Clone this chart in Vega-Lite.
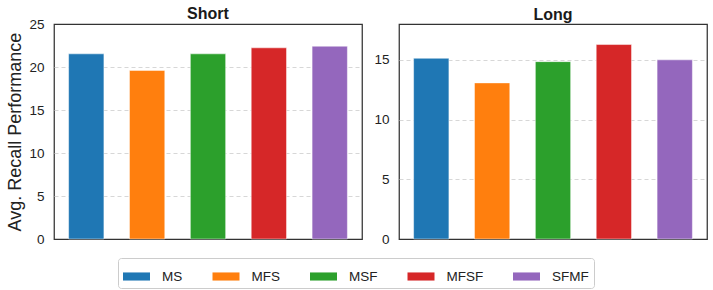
{
  "$schema": "https://vega.github.io/schema/vega-lite/v6.json",
  "background": "white",
  "padding": {"left": 6, "top": 5, "right": 5, "bottom": 5},
  "data": {"values": [
    {"Length": "Short", "Method": "MS", "Value": 21.53},
    {"Length": "Short", "Method": "MFS", "Value": 19.6},
    {"Length": "Short", "Method": "MSF", "Value": 21.53},
    {"Length": "Short", "Method": "MFSF", "Value": 22.23},
    {"Length": "Short", "Method": "SFMF", "Value": 22.42},
    {"Length": "Long", "Method": "MS", "Value": 15.13},
    {"Length": "Long", "Method": "MFS", "Value": 13.07},
    {"Length": "Long", "Method": "MSF", "Value": 14.85},
    {"Length": "Long", "Method": "MFSF", "Value": 16.28},
    {"Length": "Long", "Method": "SFMF", "Value": 15.0}
  ]},
  "config": {
    "font": "Liberation Sans",
    "view": {"stroke": "#333333", "strokeWidth": 1.25},
    "title": {"fontSize": 16, "fontWeight": "bold", "color": "#1a1a1a", "anchor": "middle"},
    "axis": {"labelFontSize": 13.5, "labelColor": "#222222", "titleColor": "#222222", "tickSize": 0, "labelPadding": 10, "domain": false, "gridColor": "#d3d3d3", "gridDash": [4, 3], "gridWidth": 0.9},
    "legend": {"labelFontSize": 13.5, "labelColor": "#222222"}
  },
  "spacing": 10,
  "hconcat": [
    {
      "title": {"text": "Short", "offset": -5},
      "width": 308,
      "height": 215,
      "transform": [{"filter": "datum.Length === 'Short'"}],
      "mark": {"type": "bar", "stroke": "white", "strokeWidth": 0.8, "strokeOpacity": 0.6},
      "encoding": {
        "x": {"field": "Method", "type": "nominal", "sort": ["MS", "MFS", "MSF", "MFSF", "SFMF"], "axis": null, "scale": {"paddingInner": 0.42, "paddingOuter": 0.24}},
        "y": {"field": "Value", "type": "quantitative", "scale": {"domain": [0, 25]}, "axis": {"title": "Avg. Recall Performance", "titleFontSize": 18, "titleFontWeight": "normal", "titlePadding": 4, "values": [0, 5, 10, 15, 20, 25], "gridOpacity": {"condition": {"test": "datum.value === 0 || datum.value === 25", "value": 0}, "value": 1}}},
        "color": {"field": "Method", "type": "nominal", "sort": ["MS", "MFS", "MSF", "MFSF", "SFMF"], "scale": {"domain": ["MS", "MFS", "MSF", "MFSF", "SFMF"], "range": ["#1f77b4", "#ff7f0e", "#2ca02c", "#d62728", "#9467bd"]},
          "legend": {"title": null, "orient": "none", "legendX": 64, "legendY": 234, "direction": "horizontal", "columns": 5, "columnPadding": 29.5, "labelOffset": 12, "symbolType": "M-1,-0.3H1V0.3H-1Z", "symbolSize": 729, "symbolStrokeWidth": 0, "strokeColor": "#cccccc", "padding": 5, "cornerRadius": 3, "fillColor": "white"}}
      }
    },
    {
      "title": {"text": "Long", "offset": 1},
      "width": 308,
      "height": 215,
      "transform": [{"filter": "datum.Length === 'Long'"}],
      "mark": {"type": "bar", "stroke": "white", "strokeWidth": 0.8, "strokeOpacity": 0.6},
      "encoding": {
        "x": {"field": "Method", "type": "nominal", "sort": ["MS", "MFS", "MSF", "MFSF", "SFMF"], "axis": null, "scale": {"paddingInner": 0.42, "paddingOuter": 0.24}},
        "y": {"field": "Value", "type": "quantitative", "scale": {"domain": [0, 18]}, "axis": {"title": null, "values": [0, 5, 10, 15], "gridOpacity": {"condition": {"test": "datum.value === 0", "value": 0}, "value": 1}}},
        "color": {"field": "Method", "type": "nominal", "sort": ["MS", "MFS", "MSF", "MFSF", "SFMF"], "scale": {"domain": ["MS", "MFS", "MSF", "MFSF", "SFMF"], "range": ["#1f77b4", "#ff7f0e", "#2ca02c", "#d62728", "#9467bd"]}}
      }
    }
  ]
}
